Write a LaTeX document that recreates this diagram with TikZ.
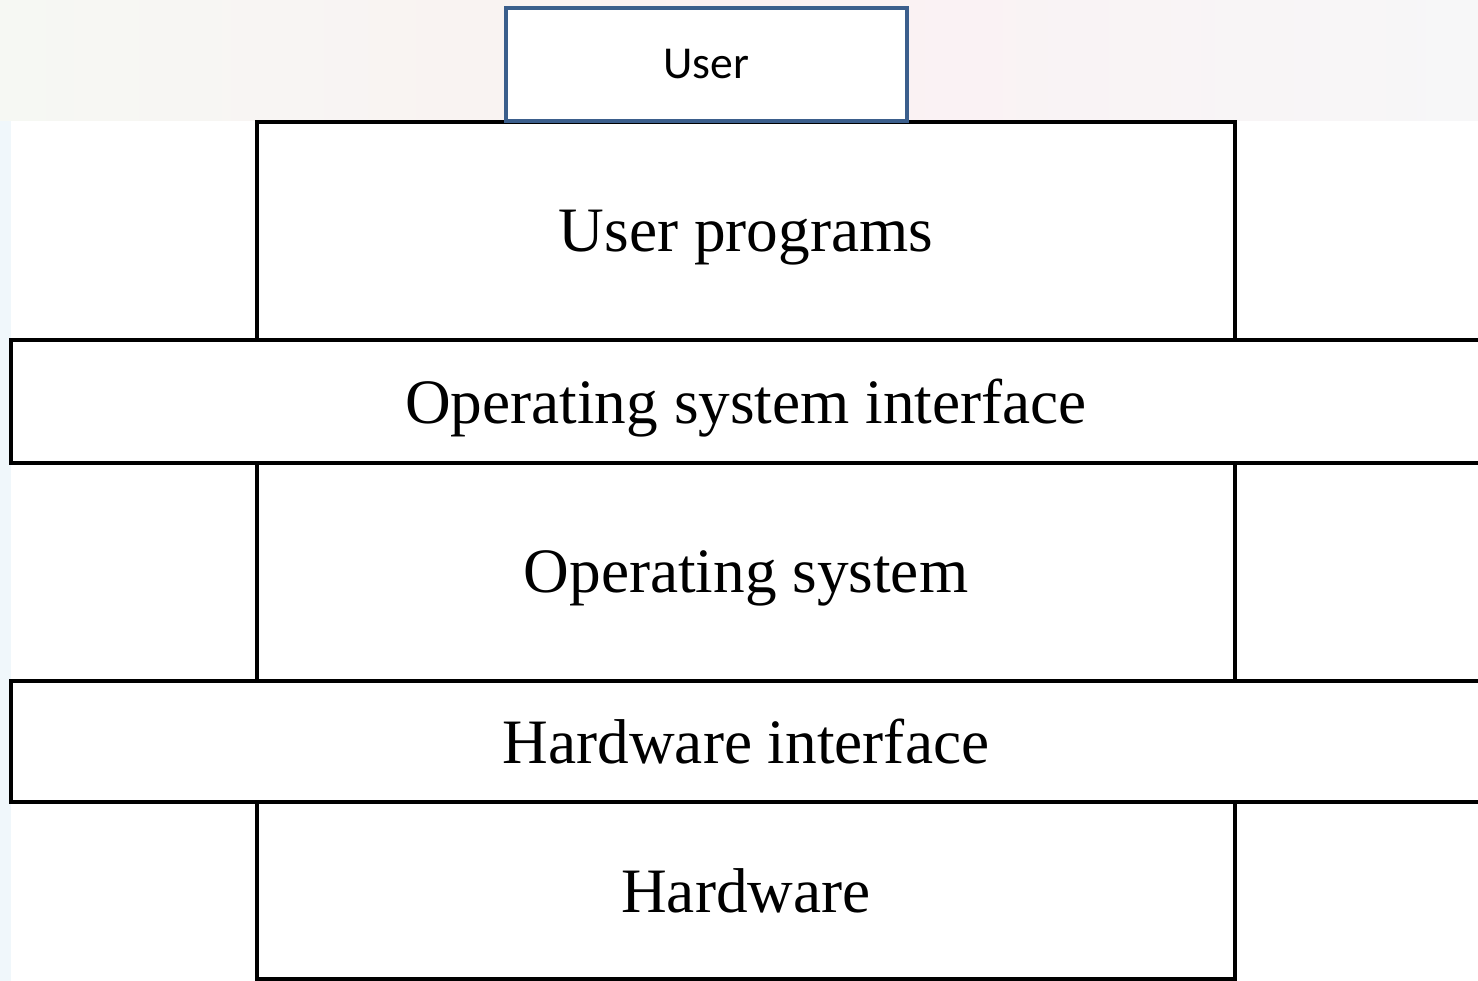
\documentclass[tikz,border=0pt]{standalone}
\usepackage{fontspec}
\setmainfont{Liberation Serif}
\newfontfamily\userfont{Carlito}
\usepackage{xcolor}
\usetikzlibrary{positioning}
\definecolor{userblue}{RGB}{59,94,140}
\definecolor{bgleft}{RGB}{246,248,243}
\definecolor{bgmid}{RGB}{251,240,242}
\definecolor{bgright}{RGB}{247,247,248}
\definecolor{bgside}{RGB}{240,247,251}
\tikzstyle{layer} = [rectangle, draw=black, line width=0.95pt, fill=white, inner sep=0pt, outer sep=0pt, text depth=0pt, font=\fontsize{18}{22}\selectfont]
\tikzstyle{userbox} = [rectangle, draw=userblue, line width=1.2pt, fill=white, inner sep=0pt, outer sep=0pt, font=\userfont\fontsize{13}{16}\selectfont]

\begin{document}
\begin{tikzpicture}[x=0.1mm, y=-0.1mm]
\useasboundingbox (0,0) rectangle (1478,981);
\shade[left color=bgleft, right color=bgright, middle color=bgmid] (0,0) rectangle (1478,121);
\fill[bgside] (0,121) rectangle (11,981);
\node (prog) [layer, minimum width=97.8mm, minimum height=21.8mm] at (746,231) {User programs};
\node (osif) [layer, minimum width=147mm, minimum height=12.3mm] at (746,401.5) {Operating system interface};
\node (os) [layer, minimum width=97.8mm, minimum height=21.8mm] at (746,572) {Operating system};
\node (hwif) [layer, minimum width=147mm, minimum height=12.1mm] at (746,741.5) {Hardware interface};
\node (hw) [layer, minimum width=97.8mm, minimum height=17.7mm] at (746,890.5) {Hardware};
\node (user) [userbox, minimum width=40.1mm, minimum height=11.3mm] at (706.5,64.5) {User};
\end{tikzpicture}
\end{document}
